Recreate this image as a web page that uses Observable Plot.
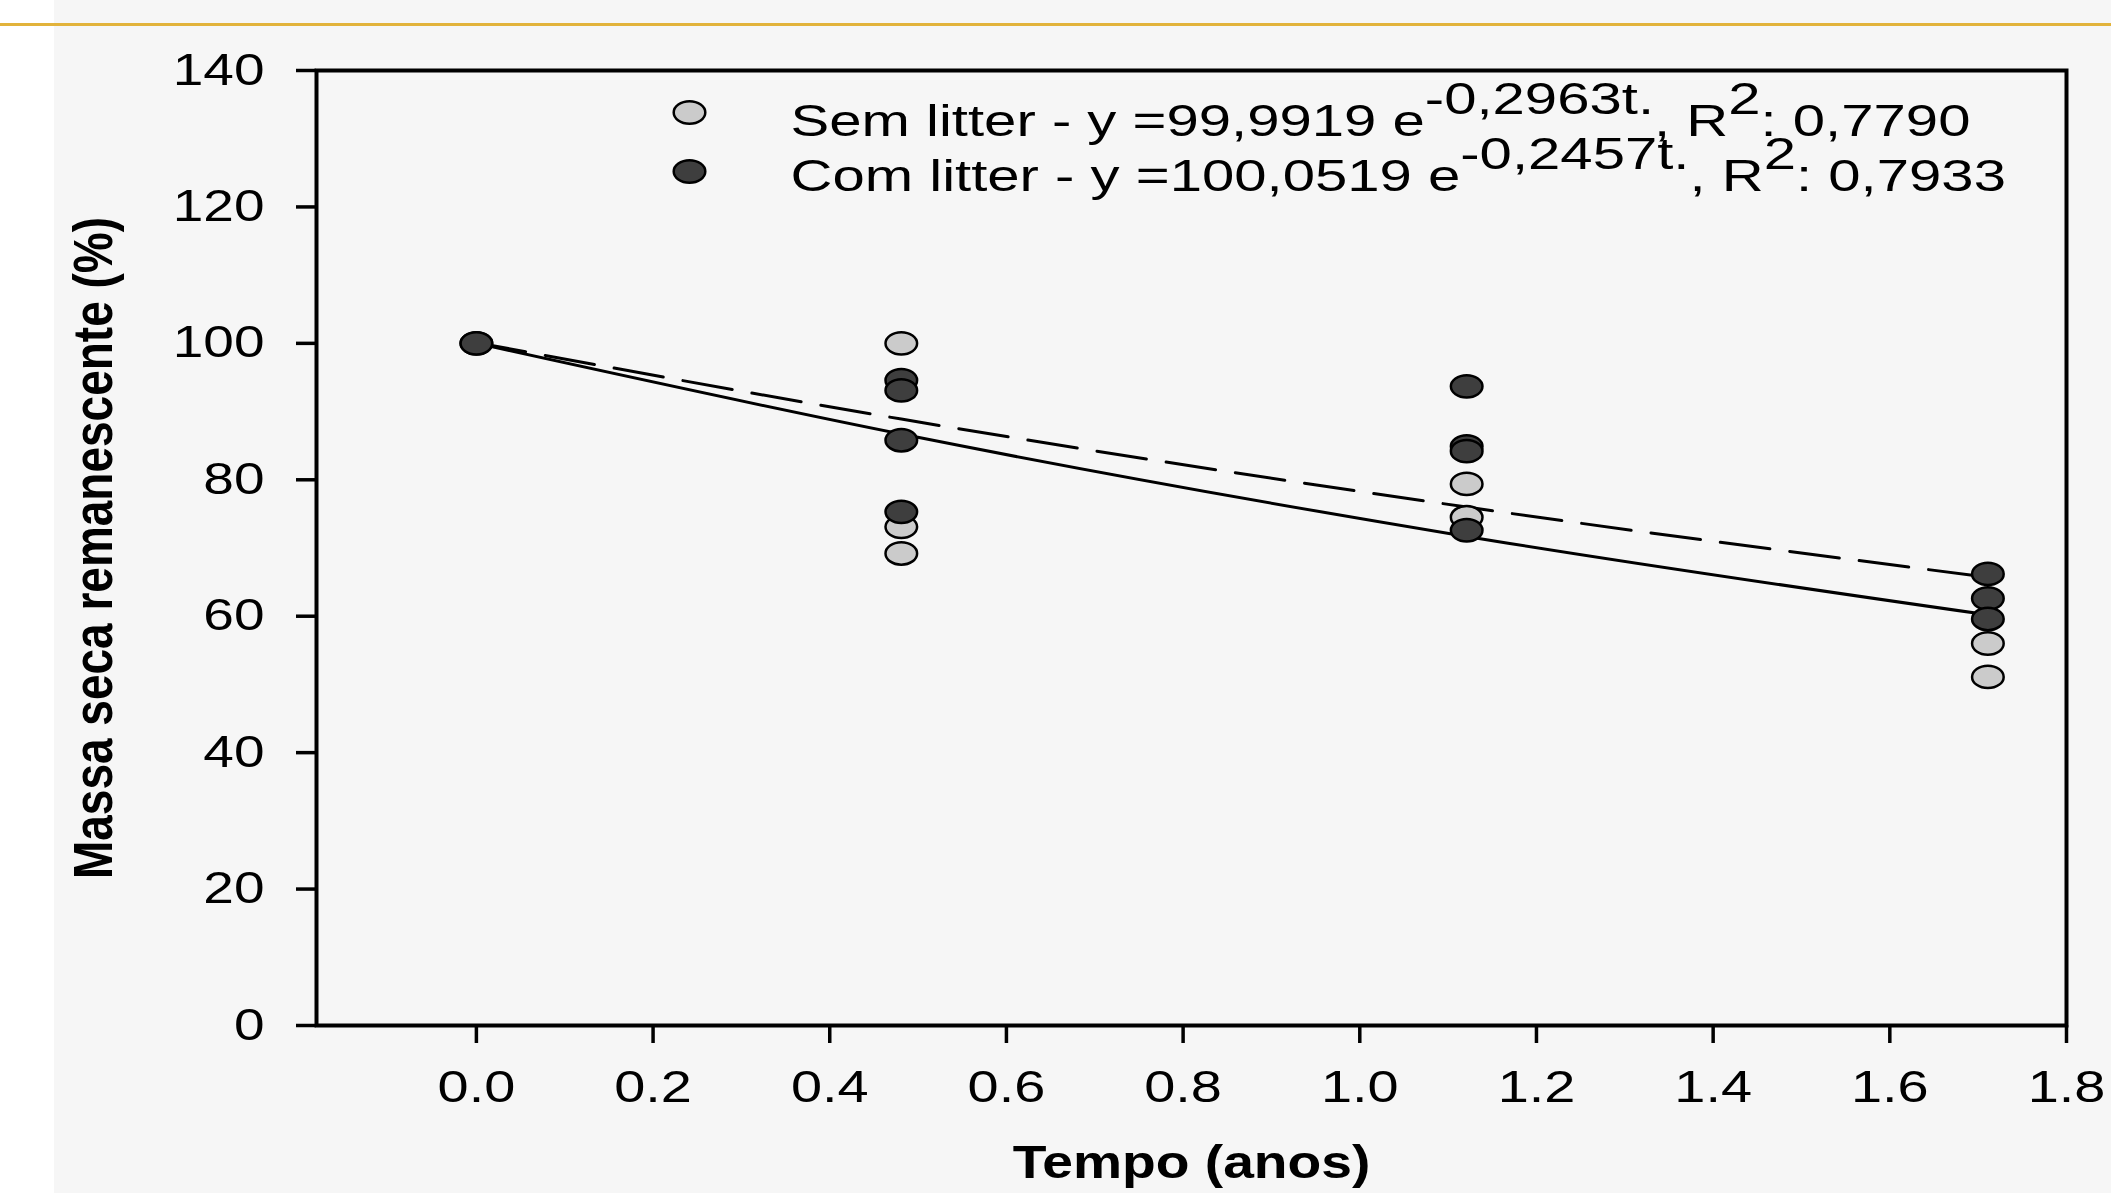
<!DOCTYPE html>
<html><head><meta charset="utf-8">
<script src="https://cdn.jsdelivr.net/npm/d3@7"></script>
<script src="https://cdn.jsdelivr.net/npm/@observablehq/plot@0.6"></script>
<style>
html,body{margin:0;padding:0;}
body{background:#f6f6f6;width:2111px;height:1193px;overflow:hidden;position:relative;}
#strip{position:absolute;left:0;top:0;width:54px;height:1193px;background:#ffffff;}
#rule{position:absolute;left:0;top:23px;width:2111px;height:3px;background:#e2b33b;}
#chart{position:absolute;left:0;top:0;}
</style></head><body>
<div id="strip"></div><div id="rule"></div><div id="chart"></div>
<script>
// ---- data ----
const xTicks = [0, 0.2, 0.4, 0.6, 0.8, 1.0, 1.2, 1.4, 1.6, 1.8];
const yTicks = [0, 20, 40, 60, 80, 100, 120, 140];
const semTimes  = [0, 0.481, 0.481, 0.481, 1.121, 1.121, 1.711, 1.711];
const semValues = [100, 100, 73.1, 69.2, 79.4, 74.5, 56.0, 51.1];
const comTimes  = [0, 0.481, 0.481, 0.481, 0.481, 1.121, 1.121, 1.121, 1.121, 1.711, 1.711, 1.711];
const comValues = [100, 94.6, 93.1, 85.8, 75.3, 93.7, 84.9, 84.2, 72.6, 66.2, 62.6, 59.6];
const fitTimes = [0, 0.481, 1.121, 1.711];
const semFit = [100.0, 86.7, 71.7, 60.2];
const comFit = [100.1, 88.9, 76.0, 65.7];
const seriesNames = ["Sem litter", "Com litter"];
const coefA = ["99,9919", "100,0519"];
const exponents = ["-0,2963t.", "-0,2457t."];
const r2Values = ["0,7790", "0,7933"];
const xTitle = "Tempo (anos)";
const yTitle = "Massa seca remanescente (%)";

// ---- tables ----
const semRows = semTimes.map((t, i) => ({t, v: semValues[i]}));
const comRows = comTimes.map((t, i) => ({t, v: comValues[i]}));
const semFitRows = fitTimes.map((t, i) => ({t, v: semFit[i]}));
const comFitRows = fitTimes.map((t, i) => ({t, v: comFit[i]}));
const legendStrings = seriesNames.map((n, i) => `${n} - y =${coefA[i]} e${exponents[i]}, R2: ${r2Values[i]}`);

const LIGHT = "#cbcbcb", DARK = "#3e3e3e";
const ellipse = {
  draw(ctx) {
    const rx = 15.8, ry = 11.2, k = 0.5523;
    ctx.moveTo(rx, 0);
    ctx.bezierCurveTo(rx, ry * k, rx * k, ry, 0, ry);
    ctx.bezierCurveTo(-rx * k, ry, -rx, ry * k, -rx, 0);
    ctx.bezierCurveTo(-rx, -ry * k, -rx * k, -ry, 0, -ry);
    ctx.bezierCurveTo(rx * k, -ry, rx, -ry * k, rx, 0);
    ctx.closePath();
  }
};

const chart = Plot.plot({
  width: 2111, height: 1193,
  marginLeft: 316, marginRight: 45, marginTop: 70, marginBottom: 168,
  style: {background: "transparent", fontFamily: "'Liberation Sans', Arial, sans-serif", color: "black"},
  x: {domain: [-0.181, 1.8]},
  y: {domain: [0, 140]},
  marks: [
    Plot.axisX({ticks: xTicks, tickSize: 18, tickPadding: 27, fontSize: 44, tickFormat: d3.format(".1f"), label: null, strokeWidth: 3.5}),
    Plot.axisY({ticks: yTicks, tickSize: 20, tickPadding: 32, fontSize: 44, tickFormat: d => String(d), label: null, strokeWidth: 3.5}),
    Plot.frame({stroke: "black", strokeWidth: 4}),
    Plot.line(semFitRows, {x: "t", y: "v", stroke: "black", strokeWidth: 3, curve: "monotone-x"}),
    Plot.line(comFitRows, {x: "t", y: "v", stroke: "black", strokeWidth: 3, strokeDasharray: "50,20", curve: "monotone-x"}),
    Plot.dot(semRows, {x: "t", y: "v", symbol: ellipse, fill: LIGHT, stroke: "black", strokeWidth: 2.5}),
    Plot.dot(comRows, {x: "t", y: "v", symbol: ellipse, fill: DARK, stroke: "black", strokeWidth: 2.5}),
    Plot.dot([seriesNames[0]], {frameAnchor: "top-left", dx: 373, dy: 42, symbol: ellipse, fill: LIGHT, stroke: "black", strokeWidth: 2.5}),
    Plot.dot([seriesNames[1]], {frameAnchor: "top-left", dx: 373, dy: 101, symbol: ellipse, fill: DARK, stroke: "black", strokeWidth: 2.5}),
    Plot.text([legendStrings[0]], {text: d => d, frameAnchor: "top-left", dx: 474, dy: 51, textAnchor: "start", lineAnchor: "middle", fontSize: 44, ariaDescription: "legend-0"}),
    Plot.text([legendStrings[1]], {text: d => d, frameAnchor: "top-left", dx: 474, dy: 106, textAnchor: "start", lineAnchor: "middle", fontSize: 44, ariaDescription: "legend-1"}),
    Plot.text([yTitle], {text: d => d, frameAnchor: "left", dx: -222, rotate: -90, textAnchor: "middle", lineAnchor: "middle", fontSize: 46, fontWeight: "bold", ariaDescription: "y-title"}),
    Plot.text([xTitle], {text: d => d, frameAnchor: "bottom", dy: 152, textAnchor: "middle", lineAnchor: "bottom", fontSize: 46, fontWeight: "bold", ariaDescription: "x-title"})
  ]
});
document.getElementById("chart").appendChild(chart);

// legend rich text (superscripts)
[0, 1].forEach(i => {
  d3.select(chart).selectAll(`g[aria-description="legend-${i}"] text`).each(function() {
    const t = d3.select(this);
    t.text(null);
    t.append("tspan").text(`${seriesNames[i]} - y =${coefA[i]} e`);
    t.append("tspan").attr("dy", "-0.5em").text(exponents[i]);
    t.append("tspan").attr("dy", "0.5em").text(", R");
    t.append("tspan").attr("dy", "-0.5em").text("2");
    t.append("tspan").attr("dy", "0.5em").text(`: ${r2Values[i]}`);
  });
});

// horizontal stretch of the lettering, as in the reference
function stretch(selector, s) {
  d3.select(chart).selectAll(selector).each(function() {
    const tr = this.getAttribute("transform");
    if (tr) {
      this.setAttribute("transform", tr.includes("rotate") ? tr.replace("rotate", `scale(${s},1) rotate`) : `${tr} scale(${s},1)`);
    } else {
      const x = +(this.getAttribute("x") || 0);
      this.removeAttribute("x");
      this.setAttribute("transform", `translate(${x},0) scale(${s},1)`);
    }
  });
}
stretch('g[aria-description="legend-0"] text', 1.32);
stretch('g[aria-description="legend-1"] text', 1.32);
stretch('g[aria-description="y-title"] text', 1.2);
stretch('g[aria-description="x-title"] text', 1.2);
stretch('g[aria-label="x-axis tick label"] text', 1.27);
stretch('g[aria-label="y-axis tick label"] text', 1.25);
</script>
</body></html>
